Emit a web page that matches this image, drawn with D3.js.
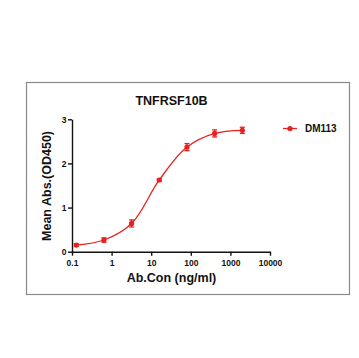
<!DOCTYPE html>
<html><head><meta charset="utf-8">
<script src="https://cdn.jsdelivr.net/npm/d3@7"></script>
<style>body{margin:0;background:#fff}svg{display:block}text{font-family:Arial,"Liberation Sans",sans-serif;font-weight:bold;fill:#111}</style>
</head><body>
<script>
const conc = [0.128, 0.64, 3.2, 16, 80, 400, 2000];
const meanAbs = [0.15, 0.265, 0.64, 1.625, 2.37, 2.68, 2.75];
const errAbs = [0.03, 0.05, 0.08, 0.03, 0.08, 0.08, 0.07];
const xTicks = [0.1, 1, 10, 100, 1000, 10000];
const yTicks = [0, 1, 2, 3];
const seriesName = "DM113";
const title = "TNFRSF10B";
const red = "#e8211f";

const W = 359, H = 358;
const svg = d3.select("body").append("svg").attr("width", W).attr("height", H);
svg.append("rect").attr("x", 26.5).attr("y", 82.5).attr("width", 323).attr("height", 212)
  .attr("fill", "none").attr("stroke", "#8a8a8a").attr("stroke-width", 1.2);

const x = d3.scaleLog().domain([0.1, 10000]).range([72, 270]);
const y = d3.scaleLinear().domain([0, 3]).range([251.7, 119.3]);

const xAxis = svg.append("g").attr("transform", "translate(0,251.7)")
  .call(d3.axisBottom(x).tickValues(xTicks).tickFormat(d3.format("~g")).tickSize(4).tickSizeOuter(0));
const yAxis = svg.append("g").attr("transform", "translate(72,0)")
  .call(d3.axisLeft(y).tickValues(yTicks).tickFormat(d3.format("d")).tickSize(4).tickSizeOuter(0));
[xAxis, yAxis].forEach(g => {
  g.select(".domain").attr("stroke", "#111").attr("stroke-width", 1.4);
  g.selectAll(".tick line").attr("stroke", "#111").attr("stroke-width", 1.4);
  g.selectAll(".tick text").style("font-size", "8.5px").style("font-family", "Arial,'Liberation Sans',sans-serif").style("font-weight", "bold").attr("fill", "#111");
});
xAxis.selectAll(".tick text").attr("dy", "0.9em");
yAxis.selectAll(".tick text").attr("x", -5.5);

svg.append("text").attr("x", 171.5).attr("y", 105).attr("text-anchor", "middle").style("font-size", "12.5px").text(title);
svg.append("text").attr("x", 171.5).attr("y", 282).attr("text-anchor", "middle").style("font-size", "12.5px").text("Ab.Con (ng/ml)");
svg.append("text").attr("transform", "translate(51,186) rotate(-90)").attr("text-anchor", "middle").style("font-size", "12.5px").text("Mean Abs.(OD450)");

const pts = conc.map((c, i) => ({c, v: meanAbs[i], e: errAbs[i]}));
const line = d3.line().x(d => x(d.c)).y(d => y(d.v)).curve(d3.curveCatmullRom.alpha(0.5));
svg.append("path").datum(pts).attr("d", line).attr("fill", "none").attr("stroke", red).attr("stroke-width", 1.3);

const eb = svg.append("g").attr("stroke", red).attr("stroke-width", 1.3);
pts.forEach(d => {
  const cx = x(d.c);
  eb.append("line").attr("x1", cx).attr("x2", cx).attr("y1", y(d.v - d.e)).attr("y2", y(d.v + d.e));
  eb.append("line").attr("x1", cx - 2.5).attr("x2", cx + 2.5).attr("y1", y(d.v - d.e)).attr("y2", y(d.v - d.e));
  eb.append("line").attr("x1", cx - 2.5).attr("x2", cx + 2.5).attr("y1", y(d.v + d.e)).attr("y2", y(d.v + d.e));
});
svg.append("g").selectAll("circle").data(pts).join("circle")
  .attr("cx", d => x(d.c)).attr("cy", d => y(d.v)).attr("r", 2.6).attr("fill", red);

svg.append("line").attr("x1", 283).attr("x2", 297).attr("y1", 128.5).attr("y2", 128.5).attr("stroke", red).attr("stroke-width", 1.3);
svg.append("circle").attr("cx", 290).attr("cy", 128.5).attr("r", 2.6).attr("fill", red);
svg.append("text").attr("x", 305).attr("y", 132).style("font-size", "10px").text(seriesName);
</script>
</body></html>
